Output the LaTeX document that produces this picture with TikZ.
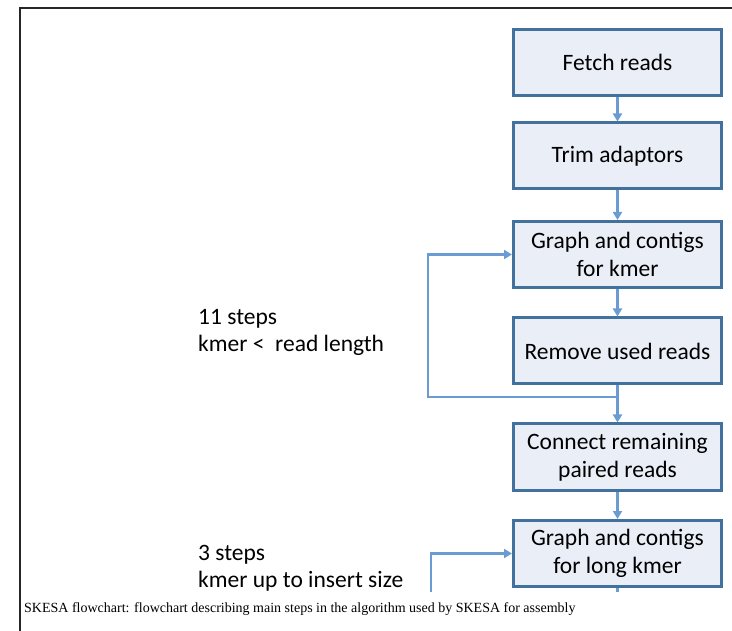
\documentclass[tikz,border=0pt]{standalone}
\usepackage{fontspec}
\usepackage{tikz}
\usetikzlibrary{arrows.meta,calc}
\newfontfamily\carlito{Carlito}
\newfontfamily\timesfont{Liberation Serif}
\definecolor{BoxFill}{HTML}{EAEFF7}
\definecolor{BoxLine}{HTML}{41719C}
\definecolor{FlowBlue}{HTML}{6A9BD3}

\begin{document}
\begin{tikzpicture}[x=1pt,y=-1pt,
    stepbox/.style={rectangle,draw=BoxLine,line width=3pt,fill=BoxFill,
      minimum width=208pt,minimum height=66pt,align=center,
      font=\carlito\fontsize{23.5}{28}\selectfont},
    flow/.style={FlowBlue,line width=2.8pt,-{Triangle[width=9pt,length=8pt]}},
    note/.style={anchor=base west,align=left,inner sep=0pt,
      font=\carlito\fontsize{23.5}{27}\selectfont}]
  \useasboundingbox (0,0) rectangle (732,631);
  % screenshot frame
  \draw[line width=2pt,black!85] (20,631) -- (20,8) -- (732,8);
  \begin{scope}
    \clip (21,9) rectangle (732,591);
    \node[stepbox] (fetch)   at (617.5,62.5) {Fetch reads};
    \node[stepbox] (trim)    at (617.5,156)  {Trim adaptors};
    \node[stepbox] (kmer)    at (617.5,254.5) {Graph and contigs\\for kmer};
    \node[stepbox] (remove)  at (617.5,351)  {Remove used reads};
    \node[stepbox] (connect) at (617.5,457)  {Connect remaining\\paired reads};
    \node[stepbox] (longkmer) at (617.5,553.5) {Graph and contigs\\for long kmer};
    \coordinate (join) at (617.5,397);
    \coordinate (loopback) at (428,397);
    \coordinate (longloop) at (431,600);
    \coordinate (tail) at (617.5,600);
    \draw[flow] (fetch) -- (trim);
    \draw[flow] (trim) -- (kmer);
    \draw[flow] (kmer) -- (remove);
    \draw[flow] (remove) -- (connect);
    \draw[flow] (join) -- (loopback) |- (kmer.west);
    \draw[flow] (connect) -- (longkmer);
    \draw[flow] (longloop) |- (longkmer.west);
    \draw[FlowBlue,line width=2.8pt] (longkmer) -- (tail);
    % base anchor sits on the last line
    \node[note] (shortnote) at (198,352) {11 steps\\kmer <~ read length};
    \node[note] (longnote)  at (198,587) {3 steps\\kmer up to insert size};
  \end{scope}
  \node[anchor=base west,inner sep=0pt,font=\timesfont\fontsize{14}{17}\selectfont]
    (caption) at (24,612) {SKESA flowchart: flowchart describing main steps in the algorithm used by SKESA for assembly};
\end{tikzpicture}
\end{document}
